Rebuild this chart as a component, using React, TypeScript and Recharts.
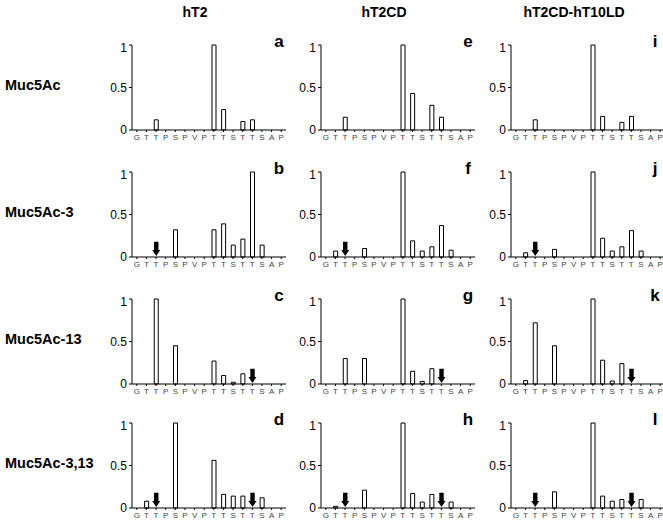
import React from 'react';
import { BarChart, Bar, XAxis, YAxis } from 'recharts';

// peptide sequence along the x axis
const residues = ['G', 'T', 'T', 'P', 'S', 'P', 'V', 'P', 'T', 'T', 'S', 'T', 'T', 'S', 'A', 'P'];
const yTicks = [0, 0.5, 1];

const columnTitles = ['hT2', 'hT2CD', 'hT2CD-hT10LD'];
const rowLabels = ['Muc5Ac', 'Muc5Ac-3', 'Muc5Ac-13', 'Muc5Ac-3,13'];
const panelLetters = ['a', 'e', 'i', 'b', 'f', 'j', 'c', 'g', 'k', 'd', 'h', 'l'];

// relative incorporation, one array per panel
const muc5acHT2 = [0, 0, 0.12, 0, 0, 0, 0, 0, 1, 0.24, 0, 0.1, 0.12, 0, 0, 0];
const muc5acHT2CD = [0, 0, 0.15, 0, 0, 0, 0, 0, 1, 0.43, 0, 0.29, 0.15, 0, 0, 0];
const muc5acHT10 = [0, 0, 0.12, 0, 0, 0, 0, 0, 1, 0.16, 0, 0.09, 0.16, 0, 0, 0];

const muc5ac3HT2 = [0, 0, 0, 0, 0.32, 0, 0, 0, 0.32, 0.39, 0.14, 0.21, 1, 0.14, 0, 0];
const muc5ac3HT2CD = [0, 0.07, 0, 0, 0.1, 0, 0, 0, 1, 0.19, 0.07, 0.12, 0.37, 0.08, 0, 0];
const muc5ac3HT10 = [0, 0.05, 0, 0, 0.09, 0, 0, 0, 1, 0.22, 0.07, 0.12, 0.31, 0.07, 0, 0];

const muc5ac13HT2 = [0, 0, 1, 0, 0.45, 0, 0, 0, 0.27, 0.1, 0.02, 0.12, 0, 0, 0, 0];
const muc5ac13HT2CD = [0, 0, 0.3, 0, 0.3, 0, 0, 0, 1, 0.15, 0.03, 0.18, 0, 0, 0, 0];
const muc5ac13HT10 = [0, 0.04, 0.72, 0, 0.45, 0, 0, 0, 1, 0.28, 0.035, 0.24, 0, 0, 0, 0];

const muc5ac313HT2 = [0, 0.08, 0, 0, 1, 0, 0, 0, 0.56, 0.16, 0.14, 0.14, 0, 0.12, 0, 0];
const muc5ac313HT2CD = [0, 0.02, 0, 0, 0.21, 0, 0, 0, 1, 0.17, 0.07, 0.16, 0, 0.07, 0, 0];
const muc5ac313HT10 = [0, 0, 0, 0, 0.19, 0, 0, 0, 1, 0.14, 0.08, 0.1, 0, 0.1, 0, 0];

// positions of the pre-glycosylated residues (arrows)
const arrowsNone: number[] = [];
const arrowsSite3 = [2];
const arrowsSite13 = [12];
const arrowsBoth = [2, 12];

const grid = [
  [muc5acHT2, muc5acHT2CD, muc5acHT10],
  [muc5ac3HT2, muc5ac3HT2CD, muc5ac3HT10],
  [muc5ac13HT2, muc5ac13HT2CD, muc5ac13HT10],
  [muc5ac313HT2, muc5ac313HT2CD, muc5ac313HT10],
];
const rowArrows = [arrowsNone, arrowsSite3, arrowsSite13, arrowsBoth];

const ARROW_LEN = 0.18;

// layout
const COL_X = [132, 321, 511];
const ROW_Y = [45, 172, 299, 423];
const PLOT_W = 154;
const PLOT_H = 85;
const AXIS_W = 30;
const TOP_PAD = 5;
const FONT = '"Liberation Sans", Arial, sans-serif';

const ArrowShape = (props: any) => {
  const { x, y, width, height } = props;
  if (!height || height <= 0) return null;
  const cx = x + width / 2;
  const bottom = y + height - 1;
  const headH = 6;
  const d = `M${cx - 2.2},${y} H${cx + 2.2} V${bottom - headH} H${cx + 4} L${cx},${bottom} L${cx - 4},${bottom - headH} H${cx - 2.2} Z`;
  return <path d={d} fill="#000" />;
};

function Panel({ values, arrows }: { values: number[]; arrows: number[] }) {
  const data = residues.map((r, i) => ({
    pos: i,
    value: values[i],
    arrow: arrows.includes(i) ? ARROW_LEN : 0,
  }));
  return (
    <BarChart
      width={AXIS_W + PLOT_W + 6}
      height={TOP_PAD + PLOT_H + 16}
      data={data}
      margin={{ top: TOP_PAD, right: 6, left: 0, bottom: 0 }}
      barSize={4}
    >
      <XAxis
        dataKey="pos"
        interval={0}
        tickFormatter={(i) => residues[i]}
        tick={{ fontSize: 8, fill: '#444' }}
        tickSize={2}
        height={16}
        axisLine={{ stroke: '#000' }}
        tickLine={{ stroke: '#000' }}
      />
      <YAxis
        width={AXIS_W}
        domain={[0, 1]}
        ticks={yTicks}
        tickFormatter={(v) => String(v)}
        tick={{ fontSize: 12, fill: '#000' }}
        tickSize={3}
        axisLine={{ stroke: '#000' }}
        tickLine={{ stroke: '#000' }}
      />
      <Bar dataKey="value" stackId="s" fill="#fff" stroke="#000" strokeWidth={1} isAnimationActive={false} />
      <Bar dataKey="arrow" stackId="s" shape={ArrowShape} isAnimationActive={false} />
    </BarChart>
  );
}

export default function App() {
  return (
    <div
      style={{
        position: 'absolute',
        left: 0,
        top: 0,
        width: 663,
        height: 521,
        overflow: 'hidden',
        background: '#fff',
        fontFamily: FONT,
      }}
    >
      {grid.map((row, r) =>
        row.map((values, c) => (
          <div
            key={`${r}-${c}`}
            style={{ position: 'absolute', left: COL_X[c] - AXIS_W, top: ROW_Y[r] - TOP_PAD }}
          >
            <Panel values={values} arrows={rowArrows[r]} />
          </div>
        ))
      )}
      <svg
        width={663}
        height={521}
        style={{ position: 'absolute', left: 0, top: 0, pointerEvents: 'none' }}
        fontFamily={FONT}
        fontWeight="bold"
      >
        {columnTitles.map((t, c) => (
          <text key={t} x={COL_X[c] + 63} y={17} fontSize={14} textAnchor="middle">
            {t}
          </text>
        ))}
        {rowLabels.map((t, r) => (
          <text key={t} x={5} y={ROW_Y[r] + 45} fontSize={14.5}>
            {t}
          </text>
        ))}
        {panelLetters.map((t, i) => {
          const r = Math.floor(i / 3);
          const c = i % 3;
          return (
            <text key={t} x={[279, 468, 655][c]} y={ROW_Y[r] + 2} fontSize={17} textAnchor="middle">
              {t}
            </text>
          );
        })}
      </svg>
    </div>
  );
}
